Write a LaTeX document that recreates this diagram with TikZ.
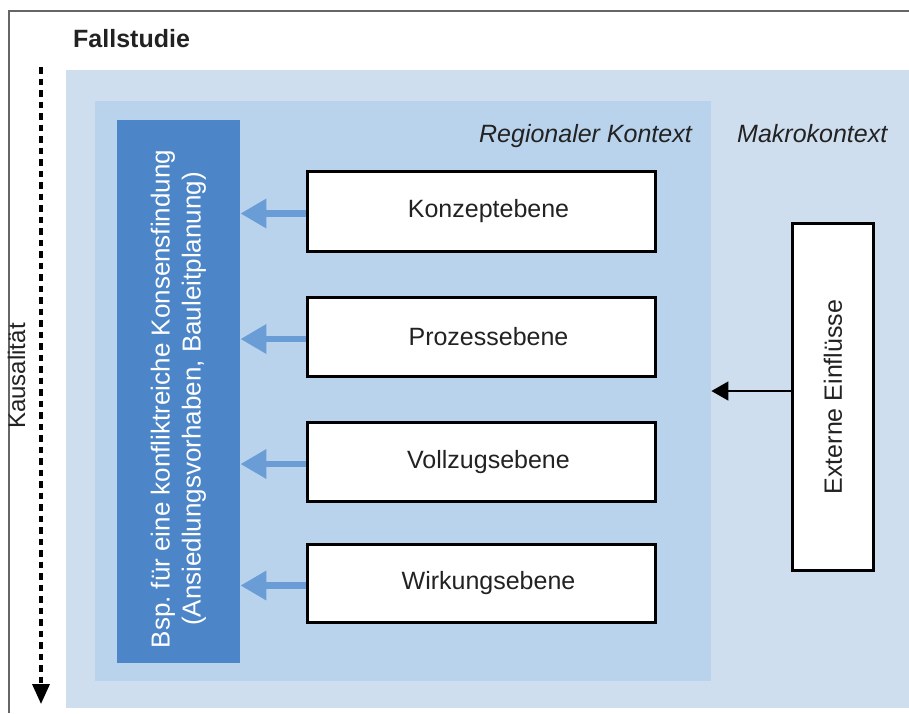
\documentclass[tikz,border=0pt]{standalone}
\usepackage{fontspec}
\setmainfont{Liberation Sans}
\usetikzlibrary{arrows.meta}
\definecolor{makroblue}{HTML}{CFDEEE}
\definecolor{regblue}{HTML}{B9D3ED}
\definecolor{caseblue}{HTML}{4D86C8}
\definecolor{flowblue}{HTML}{6A9CD5}
\definecolor{txtgray}{HTML}{222222}
\definecolor{framegray}{HTML}{666666}
\begin{document}
\begin{tikzpicture}[x=1pt,y=-1pt,
  area/.style={draw=none,inner sep=0pt,anchor=north west},
  levelbox/.style={draw=black,line width=3pt,fill=white,inner sep=0pt,anchor=north west,minimum width=348pt},
  leveltext/.style={font=\fontsize{25}{30}\selectfont,text=txtgray},
  ctxlabel/.style={font=\fontsize{25}{30}\selectfont\itshape,text=txtgray,inner sep=0pt},
  flowarrow/.style={draw=flowblue,line width=6.5pt,-{Triangle[length=26pt,width=28pt]}},
  inarrow/.style={draw=black,line width=1.5pt,-{Triangle[length=17pt,width=19pt]}}
]
\useasboundingbox (0,0) rectangle (909,713);

% surrounding frame
\draw[framegray,line width=1.8pt] (9,713) -- (9,11) -- (909,11);
\node[font=\fontsize{25}{30}\selectfont\bfseries,text=txtgray,anchor=base west,inner sep=0pt] (title) at (73,47) {Fallstudie};

% context areas
\node[area,fill=makroblue,minimum width=843pt,minimum height=638pt] (makro) at (66,70) {};
\node[area,fill=regblue,minimum width=616pt,minimum height=580pt] (reg) at (95,101) {};
\node[area,fill=caseblue,minimum width=123pt,minimum height=543pt] (case) at (117,120) {};
\node[white,font=\fontsize{26}{31}\selectfont,rotate=90,align=center,inner sep=0pt] (casetext) at (178.5,399)
  {Bsp.\ für eine konfliktreiche Konsensfindung\\(Ansiedlungsvorhaben, Bauleitplanung)};

\node[ctxlabel,anchor=base east] (reglabel) at (692,142) {Regionaler Kontext};
\node[ctxlabel,anchor=base west] (makrolabel) at (737,142) {Makrokontext};

% levels
\node[levelbox,minimum height=80pt] (konzept) at (306,170) {};
\node[levelbox,minimum height=79pt] (prozess) at (306,296) {};
\node[levelbox,minimum height=79pt] (vollzug) at (306,421) {};
\node[levelbox,minimum height=78pt] (wirkung) at (306,543) {};
\node[leveltext] (konzepttext) at ([xshift=7pt]konzept.center) {Konzeptebene};
\node[leveltext] (prozesstext) at ([xshift=7pt]prozess.center) {Prozessebene};
\node[leveltext] (vollzugtext) at ([xshift=7pt]vollzug.center) {Vollzugsebene};
\node[leveltext] (wirkungtext) at ([xshift=7pt]wirkung.center) {Wirkungsebene};

\foreach \lvl in {konzept,prozess,vollzug,wirkung}
  \draw[flowarrow] ([yshift=-2pt]\lvl.west) -- ([yshift=-2pt]case.east |- \lvl.west);

% external influences
\node[draw=black,line width=3pt,fill=white,inner sep=0pt,anchor=north west,minimum width=81pt,minimum height=347pt] (ext) at (791,222) {};
\node[leveltext,rotate=90,inner sep=0pt] (exttext) at (ext.center) {Externe Einflüsse};
\coordinate (inflow) at (reg.east |- 0,391);
\draw[inarrow] (ext.west |- inflow) -- (inflow);

% causality axis
\coordinate (causetop) at (41,67);
\coordinate (causeend) at (41,704);
\draw[black,line width=3.4pt,dash pattern=on 6.5pt off 5pt,-{Triangle[length=20pt,width=17pt]}] (causetop) -- (causeend);
\node[font=\fontsize{24}{28}\selectfont,text=txtgray,rotate=90,anchor=base,inner sep=0pt] (causelabel) at (25,376) {Kausalität};
\end{tikzpicture}
\end{document}
